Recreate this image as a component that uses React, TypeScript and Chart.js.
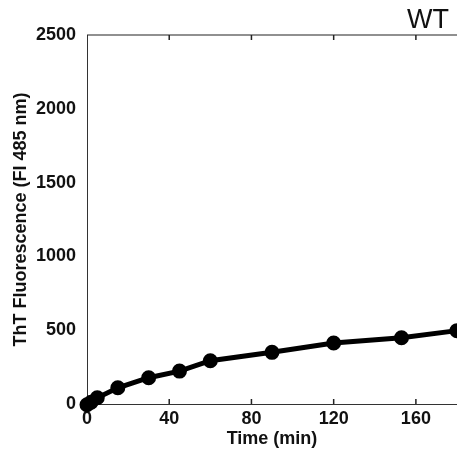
import React, { useEffect, useRef } from "react";
import { Chart, registerables } from "chart.js";

Chart.register(...registerables);

const timeMin = [0, 2, 5, 15, 30, 45, 60, 90, 120, 153, 180];
const thtFluorescence = [-5, 12, 42, 110, 178, 223, 293, 350, 413, 449, 497];
const xTickValues = [0, 40, 80, 120, 160];
const yTickValues = [0, 500, 1000, 1500, 2000, 2500];
const panelLabel = "WT";
const xTitle = "Time (min)";
const yTitle = "ThT Fluorescence (FI 485 nm)";

const FONT = "'Liberation Sans', Arial, sans-serif";

const framePlugin = {
  id: "frame",
  afterDraw(chart: any) {
    const { ctx, chartArea } = chart;
    const xs = chart.scales.x;
    ctx.save();
    ctx.strokeStyle = "#222";
    ctx.lineWidth = 1.2;
    ctx.beginPath();
    ctx.moveTo(chartArea.left, chartArea.top);
    ctx.lineTo(chartArea.right, chartArea.top);
    ctx.stroke();
    ctx.lineWidth = 1.5;
    for (const v of xTickValues) {
      if (v === 0) continue;
      const px = xs.getPixelForValue(v);
      ctx.beginPath();
      ctx.moveTo(px, chartArea.bottom);
      ctx.lineTo(px, chartArea.bottom - 5);
      ctx.moveTo(px, chartArea.top);
      ctx.lineTo(px, chartArea.top + 5);
      ctx.stroke();
    }
    ctx.fillStyle = "#111";
    ctx.font = `27px ${FONT}`;
    ctx.textAlign = "right";
    ctx.textBaseline = "alphabetic";
    ctx.fillText(panelLabel, 449, 28);
    ctx.restore();
  },
};

export default function App() {
  const ref = useRef<HTMLCanvasElement | null>(null);
  useEffect(() => {
    if (!ref.current) return;
    const chart = new Chart(ref.current, {
      type: "line",
      data: {
        datasets: [
          {
            data: timeMin.map((t, i) => ({ x: t, y: thtFluorescence[i] })),
            borderColor: "#000",
            backgroundColor: "#000",
            borderWidth: 5,
            pointRadius: 5,
            pointBackgroundColor: "#000",
            pointBorderColor: "#000",
            tension: 0,
            clip: false,
          },
        ],
      },
      options: {
        animation: false,
        responsive: false,
        layout: { padding: { top: 35, right: 0, bottom: 0, left: 0 } },
        plugins: { legend: { display: false }, tooltip: { enabled: false } },
        scales: {
          x: {
            type: "linear",
            min: 0,
            max: 180,
            grid: { display: false, drawTicks: false },
            border: { display: true, color: "#333", width: 1 },
            afterBuildTicks: (s: any) => {
              s.ticks = xTickValues.map((v) => ({ value: v }));
            },
            afterFit: (s: any) => {
              s.height = 48;
              s.paddingRight = 0;
              s.paddingLeft = 0;
            },
            ticks: {
              padding: 4,
              color: "#111",
              font: { family: FONT, size: 18, weight: "bold" },
              maxRotation: 0,
              callback: (v: any) => String(v),
            },
            title: {
              display: true,
              text: xTitle,
              color: "#111",
              font: { family: FONT, size: 18, weight: "bold" },
              padding: { top: 0, bottom: 2 },
            },
          },
          y: {
            min: 0,
            max: 2500,
            grid: { display: false, drawTicks: false },
            border: { display: true, color: "#333", width: 1 },
            afterBuildTicks: (s: any) => {
              s.ticks = yTickValues.map((v) => ({ value: v }));
            },
            afterFit: (s: any) => {
              s.width = 87;
            },
            ticks: {
              padding: 11,
              color: "#111",
              font: { family: FONT, size: 18, weight: "bold" },
              callback: (v: any) => String(v),
            },
            title: {
              display: true,
              text: yTitle,
              color: "#111",
              font: { family: FONT, size: 18, weight: "bold" },
              padding: { top: 10, bottom: 0 },
            },
          },
        },
      },
      plugins: [framePlugin],
    });
    return () => chart.destroy();
  }, []);
  return (
    <div style={{ position: "fixed", left: 0, top: 0, width: 457, height: 452, overflow: "hidden", background: "#fff" }}>
      <canvas ref={ref} width={467} height={452} />
    </div>
  );
}
